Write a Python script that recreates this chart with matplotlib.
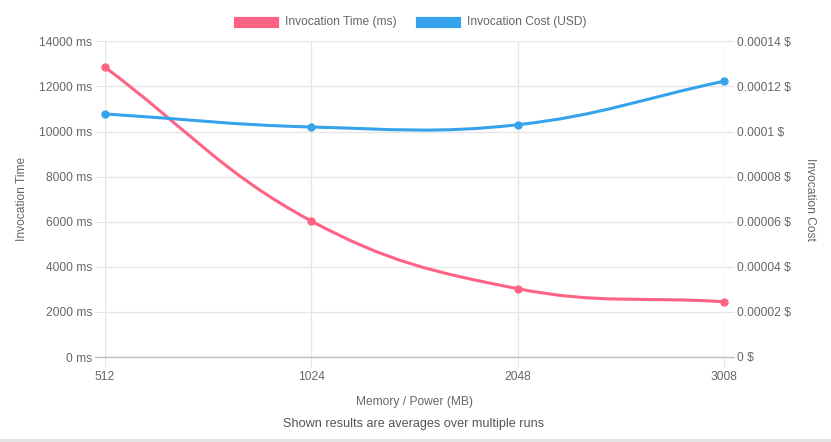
import matplotlib
matplotlib.use("Agg")
import matplotlib.pyplot as plt
import numpy as np
from matplotlib.path import Path
from matplotlib.patches import PathPatch, Rectangle
from matplotlib.lines import Line2D

# Chart data
memory = ["512", "1024", "2048", "3008"]
time_ms = [12850, 6030, 3030, 2450]
cost_usd = [0.0001078, 0.0001020, 0.0001030, 0.0001223]
time_ticks = [0, 2000, 4000, 6000, 8000, 10000, 12000, 14000]
cost_ticks = [0, 0.00002, 0.00004, 0.00006, 0.00008, 0.0001, 0.00012, 0.00014]

RED = "#ff6384"
BLUE = "#36a2eb"
TXT = "#666666"
GRID = "#e6e6e6"
ZERO = "#bfbfbf"

W, H = 831, 442
plt.rcParams["font.family"] = ["Liberation Sans", "DejaVu Sans"]
FS = 12 * 72 / 100  # 12px


def px(x, y):
    return x / W, 1 - y / H


def spline_path(ax, xs, ys, t=0.4):
    # bezier spline like Chart.js (tension 0.4), worked out in pixel space
    pts = ax.transData.transform(np.column_stack([xs, ys]))
    n = len(pts)
    cp_prev, cp_next = [], []
    for i in range(n):
        prev = pts[max(i - 1, 0)]
        cur = pts[i]
        nxt = pts[min(i + 1, n - 1)]
        d01 = np.hypot(*(cur - prev))
        d12 = np.hypot(*(nxt - cur))
        tot = d01 + d12
        s01 = d01 / tot if tot else 0
        s12 = d12 / tot if tot else 0
        cp_prev.append(cur - t * s01 * (nxt - prev))
        cp_next.append(cur + t * s12 * (nxt - prev))
    verts = [pts[0]]
    codes = [Path.MOVETO]
    for i in range(n - 1):
        verts += [cp_next[i], cp_prev[i + 1], pts[i + 1]]
        codes += [Path.CURVE4] * 3
    verts = ax.transData.inverted().transform(np.array(verts))
    return Path(verts, codes)


fig = plt.figure(figsize=(W / 100, H / 100), dpi=100)
left, top = px(105, 41.3)
right, bottom = px(724, 357)
ax = fig.add_axes([left, bottom, right - left, top - bottom])
ax2 = ax.twinx()

x = np.arange(len(memory))
for a in (ax, ax2):
    a.set_xlim(0, len(memory) - 1)
    for s in a.spines.values():
        s.set_visible(False)

ax.set_ylim(0, 14000)
ax2.set_ylim(0, 0.00014)

ax.set_xticks(x)
ax.set_xticklabels(memory)
ax.set_yticks(time_ticks)
ax.set_yticklabels([f"{v} ms" for v in time_ticks])
ax2.set_yticks(cost_ticks)
ax2.set_yticklabels([(f"{v:.5f}".rstrip("0").rstrip(".") if v else "0") + " $" for v in cost_ticks])

ax.grid(True, color=GRID, linewidth=1, alpha=1)
ax.set_axisbelow(True)
ax.tick_params(axis="both", colors=GRID, labelcolor=TXT, labelsize=FS, length=7.2, width=0.75, pad=2)
ax.tick_params(axis="x", pad=3)
ax2.tick_params(axis="y", colors=GRID, labelcolor=TXT, labelsize=FS, length=7.2, width=0.75, pad=2)

ax.set_xlabel("Memory / Power (MB)", color=TXT, fontsize=FS, labelpad=9)
ax.set_ylabel("Invocation Time", color=TXT, fontsize=FS, labelpad=8)
ax2.set_ylabel("Invocation Cost", color=TXT, fontsize=FS, rotation=-90, labelpad=18)

# zero line of the y axis, a bit darker
fig.add_artist(Line2D([px(95, 0)[0], px(734, 0)[0]], [bottom, bottom], color=ZERO, lw=1))

# curves
ax.add_patch(PathPatch(spline_path(ax, x, time_ms), fill=False, edgecolor=RED, lw=2.2, zorder=3))
ax.plot(x, time_ms, "o", color=RED, ms=5, zorder=4, clip_on=False)
ax2.add_patch(PathPatch(spline_path(ax2, x, cost_usd), fill=False, edgecolor=BLUE, lw=2.2, zorder=3))
ax2.plot(x, cost_usd, "o", color=BLUE, ms=5, zorder=4, clip_on=False)

# legend
for bx, col, label in [(233, RED, "Invocation Time (ms)"), (415, BLUE, "Invocation Cost (USD)")]:
    x0, y0 = px(bx, 28)
    fig.add_artist(Rectangle((x0, y0), 46 / W, 12 / H, transform=fig.transFigure,
                             facecolor=col, edgecolor="white", lw=0.6))
    fig.text(px(bx + 52, 0)[0], px(0, 22)[1], label, color=TXT, fontsize=FS, va="center", ha="left")

# footer note
fig.text(px(414, 0)[0], px(0, 424)[1], "Shown results are averages over multiple runs",
         color="#555555", fontsize=12.6 * 72 / 100, ha="center", va="center")
fig.add_artist(Line2D([0, 1], [px(0, 440)[1]] * 2, color="#e0e0e0", lw=2))

fig.savefig("out.png", dpi=100)
